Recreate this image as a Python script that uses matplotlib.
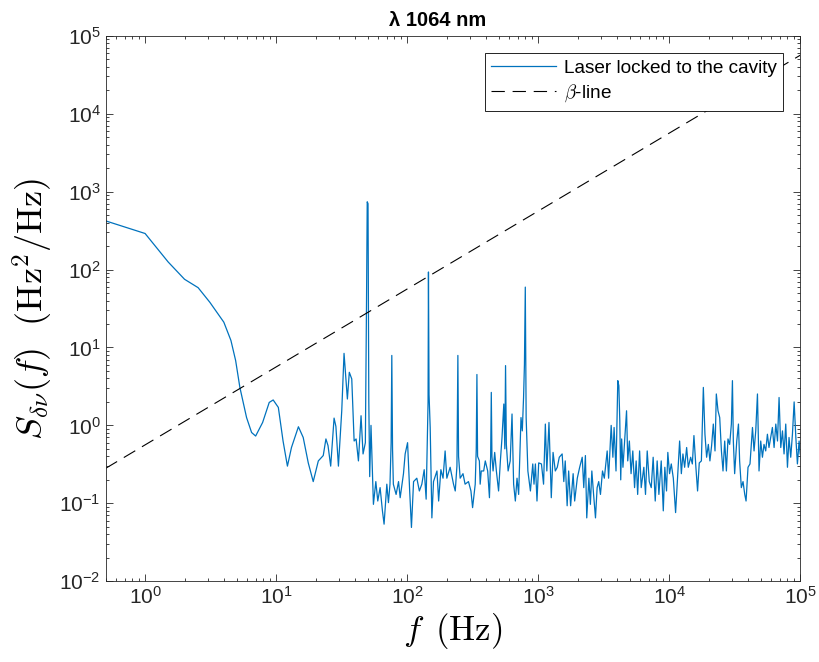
import matplotlib
matplotlib.use('Agg')
import matplotlib.pyplot as plt

plt.rcParams['font.family'] = ['Liberation Sans', 'DejaVu Sans']
plt.rcParams['mathtext.fontset'] = 'cm'

# spectrum as (Hz, Hz^2/Hz) pairs, one list per frequency band
low_band = [(0.5, 421), (1.0, 290), (1.5, 125), (2.0, 75), (2.54, 58.5), (3.12, 38), (3.99, 21.1),
            (4.52, 12.3), (4.91, 6.8), (5.29, 3.07), (5.95, 1.26), (6.5, 0.81), (6.98, 0.73),
            (7.89, 1.09), (8.86, 1.97), (9.5, 2.12), (10.4, 1.70), (11.3, 0.63), (12.2, 0.30),
            (13.1, 0.52), (14.8, 0.96), (16.1, 0.70), (17.6, 0.33), (19.2, 0.19), (21.0, 0.35),
            (22.9, 0.41), (24.0, 0.67), (24.9, 0.55), (26.1, 0.30), (27.7, 1.24), (28.6, 0.97),
            (29.9, 0.30), (31.7, 1.54), (33.0, 8.4), (35.0, 2.18), (36.2, 4.8), (37.8, 3.94),
            (39.4, 0.63), (40.8, 0.67), (42.5, 0.35), (44.5, 1.33), (46.1, 0.43), (48.0, 0.6),
            (49.0, 40), (49.6, 740), (50.3, 700), (51.0, 2.0), (51.8, 0.22), (53.0, 1.0),
            (55.3, 0.097)]

mid_band = [(57.7, 0.19), (59.7, 0.107), (62.2, 0.159), (64.8, 0.080), (66.7, 0.054), (70, 0.176),
            (72, 0.102), (74, 0.176), (75.5, 0.6), (76.4, 7.9), (77.4, 0.5), (78.5, 0.176),
            (82.4, 0.13), (86, 0.19), (88.5, 0.118), (93.8, 0.24), (96.6, 0.43), (100.8, 0.60),
            (104.6, 0.144), (107.9, 0.049), (112, 0.19), (118.6, 0.21), (124, 0.144),
            (129.5, 0.176), (135, 0.27), (139.7, 0.113), (144.5, 2.0), (145.5, 93), (147, 2.5),
            (150, 0.94), (154.5, 0.065), (159, 0.19), (169, 0.26), (174, 0.107), (181, 0.27),
            (188, 0.21), (195, 0.47), (201, 0.21), (213, 0.29), (226, 0.176), (233, 0.144),
            (240, 0.3), (244, 7.9), (247, 0.4), (254, 0.21), (267, 0.24), (277, 0.176),
            (294, 0.19), (307, 0.144), (316, 0.088), (331, 0.176), (337, 0.5), (341, 4.5),
            (345, 0.4), (356, 0.35), (361, 0.176), (368, 0.26), (384, 0.26), (395, 0.35),
            (412, 0.26), (425, 0.118), (434, 0.4), (439, 2.65), (444, 0.4), (453, 0.26),
            (466, 0.45), (480, 0.26), (499, 0.144), (515, 0.35), (530, 0.70), (547, 1.88),
            (557, 0.5), (564, 5.85), (572, 0.57), (590, 0.26), (612, 0.35), (632, 1.40),
            (650, 0.176), (670, 0.107), (690, 0.21), (710, 0.13), (740, 1.26), (757, 0.85),
            (774, 2.28), (786, 6.0), (798, 59.5), (810, 1.26), (835, 0.26), (873, 0.144),
            (910, 0.32), (930, 0.176), (953, 0.32), (980, 0.107)]

khz_band = [(1010, 0.33), (1060, 0.32), (1100, 0.176), (1135, 1.04), (1165, 0.26), (1210, 1.09),
            (1260, 0.118), (1300, 0.45), (1352, 0.26), (1400, 0.29), (1450, 0.39), (1525, 0.43),
            (1570, 0.19), (1610, 0.35), (1665, 0.093), (1710, 0.26), (1770, 0.093), (1850, 0.24),
            (1900, 0.107), (1990, 0.21), (2075, 0.29), (2170, 0.39), (2230, 0.159), (2295, 0.41),
            (2350, 0.065), (2440, 0.21), (2505, 0.097), (2570, 0.26), (2650, 0.13), (2740, 0.065),
            (2820, 0.159), (2900, 0.19), (2990, 0.13), (3100, 0.26), (3200, 0.21), (3365, 0.47),
            (3450, 0.21), (3610, 1.0), (3720, 0.39), (3800, 0.94), (3930, 0.26), (4055, 3.75),
            (4130, 3.23), (4200, 1.15), (4270, 0.20), (4340, 0.67), (4440, 0.29), (4730, 1.54),
            (4830, 0.35), (4970, 0.63), (5120, 0.24), (5280, 0.47), (5445, 0.159), (5600, 0.35),
            (5750, 0.13), (5950, 0.47), (6120, 0.159), (6410, 0.29), (6600, 0.13), (6800, 0.47),
            (7050, 0.19), (7300, 0.159), (7550, 0.39), (7830, 0.107), (8100, 0.35), (8350, 0.13),
            (8700, 0.35), (9020, 0.080), (9270, 0.29), (9550, 0.144), (9770, 0.45)]

high_band = [(10070, 0.24), (10380, 0.32), (10760, 0.21), (11200, 0.076), (11540, 0.19),
             (12020, 0.63), (12390, 0.24), (12740, 0.43), (13130, 0.29), (13600, 0.52),
             (14000, 0.29), (14590, 0.39), (15030, 0.32), (15460, 0.74), (16000, 0.29),
             (16480, 0.144), (16980, 0.33), (17620, 0.35), (18240, 3.07), (18760, 0.77),
             (19320, 0.39), (19910, 0.57), (20470, 0.35), (21090, 0.55), (21730, 1.04),
             (22390, 0.47), (22910, 2.53), (23600, 1.54), (24320, 1.26), (25060, 0.47),
             (25770, 0.26), (26550, 0.63), (27350, 0.26), (28120, 0.67), (28970, 0.57),
             (29850, 1.04), (30410, 3.75), (30900, 0.63), (31620, 0.24), (32810, 0.63),
             (33810, 1.04), (34510, 0.35), (35560, 0.159), (36640, 0.19), (37760, 0.13),
             (38640, 0.107), (39990, 0.29), (41400, 0.32), (43250, 0.94), (44460, 0.47),
             (45810, 0.85), (47210, 2.53), (48530, 0.26), (50000, 0.63), (51520, 0.39),
             (52970, 0.57), (54580, 0.47), (56230, 0.77), (57810, 0.52), (59570, 0.70),
             (61380, 0.94), (63240, 0.52), (65160, 1.04), (67140, 0.63), (69020, 2.28),
             (71120, 0.52), (73280, 0.85), (75340, 0.43), (77620, 1.04), (79980, 0.29),
             (82220, 0.70), (84720, 0.39), (87300, 0.77), (89950, 2.0), (92680, 0.70),
             (95280, 0.32), (98170, 0.63), (100000, 0.43)]

# beta-separation line end points
beta_f = [0.5, 1e5]
beta_s = [0.281, 56180]

spectrum = low_band + mid_band + khz_band + high_band
freq = [p[0] for p in spectrum]
psd = [p[1] for p in spectrum]

fig = plt.figure(figsize=(8.19, 6.62), dpi=100)
ax = fig.add_axes([0.129, 0.122, 0.848, 0.824])

ax.loglog(freq, psd, color='#0072BD', lw=0.9, label='Laser locked to the cavity')
ax.loglog(beta_f, beta_s, 'k--', lw=0.8, dashes=(12, 7), label=r'$\beta$-line')

ax.set_xlim(0.5, 1e5)
ax.set_ylim(1e-2, 1e5)
ax.set_xticks([1, 10, 100, 1e3, 1e4, 1e5])
ax.set_yticks([1e-2, 1e-1, 1, 10, 100, 1e3, 1e4, 1e5])
ax.tick_params(which='both', direction='in', top=True, right=True, labelsize=15,
               colors='#262626', width=0.6)
ax.tick_params(which='major', length=5)
ax.tick_params(which='minor', length=2.5)
for sp in ax.spines.values():
    sp.set_linewidth(0.6)
    sp.set_color('#262626')

ax.set_title('λ 1064 nm', fontsize=14.5, fontweight='bold', color='black', x=0.478, pad=7)
ax.set_xlabel(r'$f\ \,(\mathrm{Hz})$', fontsize=25, labelpad=2)
ax.set_ylabel(r'$S_{\delta\nu}(f)\ \ (\mathrm{Hz}^2/\mathrm{Hz})$', fontsize=26, labelpad=3)

leg = ax.legend(loc='upper right', fontsize=13.7, fancybox=False, framealpha=1,
                edgecolor='black', borderaxespad=0.9, handlelength=3.4, handletextpad=0.4,
                labelspacing=0.3, borderpad=0.35)
leg.get_frame().set_linewidth(0.6)

fig.savefig('out.png', dpi=100)
